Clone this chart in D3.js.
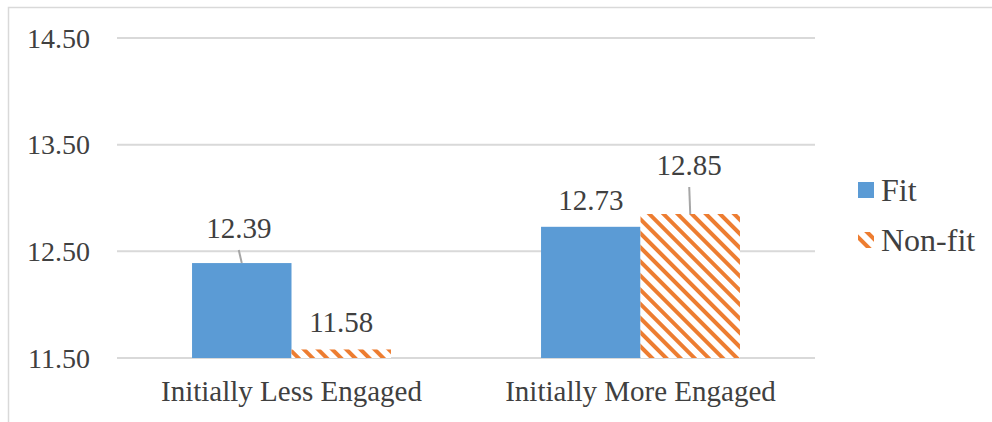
<!DOCTYPE html>
<html>
<head>
<meta charset="utf-8">
<script src="https://cdn.jsdelivr.net/npm/d3@7"></script>
<style>
  body { margin: 0; background: #fff; }
  svg { display: block; }
</style>
</head>
<body>
<svg id="chart" width="992" height="422"></svg>
<script>
const categories = ["Initially Less Engaged", "Initially More Engaged"];
const seriesNames = ["Fit", "Non-fit"];
const fitValues = [12.39, 12.73];
const nonFitValues = [11.58, 12.85];
const yTicks = [11.5, 12.5, 13.5, 14.5];

const svg = d3.select("#chart");
const width = 992, height = 422;
const margin = {top: 38, right: 177, bottom: 64, left: 117};
const innerW = width - margin.left - margin.right;
const innerH = height - margin.top - margin.bottom;
const font = "'Liberation Serif', 'Times New Roman', serif";
const textColor = "#404040";
const colors = {"Fit": "#5B9BD5", "Non-fit": "#ED7D31"};

// stripe pattern for Non-fit
const defs = svg.append("defs");
const pat = defs.append("pattern")
    .attr("id", "stripes")
    .attr("patternUnits", "userSpaceOnUse")
    .attr("width", 10)
    .attr("height", 10)
    .attr("patternTransform", "rotate(-45)");
pat.append("rect").attr("width", 10).attr("height", 10).attr("fill", "#fff");
pat.append("rect").attr("width", 4).attr("height", 10).attr("fill", colors["Non-fit"]);

// outer chart border
svg.append("rect")
    .attr("x", 8.5).attr("y", 7.5)
    .attr("width", 1000).attr("height", 430)
    .attr("fill", "none")
    .attr("stroke", "#d9d9d9")
    .attr("stroke-width", 1.5);

const g = svg.append("g")
    .attr("transform", `translate(${margin.left},${margin.top})`);

const x0 = d3.scaleBand().domain(categories).range([0, innerW]).paddingInner(0.43).paddingOuter(0.215);
const x1 = d3.scaleBand().domain(seriesNames).range([0, x0.bandwidth()]);
const y = d3.scaleLinear().domain([11.5, 14.5]).range([innerH, 0]);

// gridlines
g.append("g")
    .selectAll("line")
    .data(yTicks)
    .join("line")
    .attr("x1", 0).attr("x2", innerW)
    .attr("y1", d => y(d)).attr("y2", d => y(d))
    .attr("stroke", "#d9d9d9")
    .attr("stroke-width", 2);

// y tick labels
g.append("g")
    .selectAll("text")
    .data(yTicks)
    .join("text")
    .attr("x", -27)
    .attr("y", d => y(d))
    .attr("dy", "0.35em")
    .attr("text-anchor", "end")
    .attr("font-family", font)
    .attr("font-size", 28)
    .attr("fill", textColor)
    .text(d => d.toFixed(2));

const rows = [];
categories.forEach((c, i) => {
    rows.push({cat: c, series: "Fit", value: fitValues[i]});
    rows.push({cat: c, series: "Non-fit", value: nonFitValues[i]});
});

g.append("g")
    .selectAll("rect")
    .data(rows)
    .join("rect")
    .attr("x", d => x0(d.cat) + x1(d.series))
    .attr("y", d => y(d.value))
    .attr("width", x1.bandwidth())
    .attr("height", d => y(11.5) - y(d.value))
    .attr("fill", d => d.series === "Fit" ? colors["Fit"] : "url(#stripes)");

// data labels (two of them pulled up with leader lines)
const labelShift = {"12.39": [-3, -25], "12.85": [-1, -39]};
rows.forEach(d => {
    const key = d.value.toFixed(2);
    const cx = x0(d.cat) + x1(d.series) + x1.bandwidth() / 2;
    const top = y(d.value);
    const s = labelShift[key];
    let lx = cx, ly = top - 17;
    if (s) {
        lx = cx + s[0];
        ly = top + s[1];
        g.append("line")
            .attr("x1", lx).attr("y1", ly + 12)
            .attr("x2", cx).attr("y2", top)
            .attr("stroke", "#a6a6a6")
            .attr("stroke-width", 2);
    }
    g.append("text")
        .attr("x", lx).attr("y", ly)
        .attr("text-anchor", "middle")
        .attr("font-family", font)
        .attr("font-size", 29)
        .attr("fill", textColor)
        .text(key);
});

// category labels
g.append("g")
    .selectAll("text")
    .data(categories)
    .join("text")
    .attr("x", d => x0(d) + x0.bandwidth() / 2)
    .attr("y", innerH + 43)
    .attr("text-anchor", "middle")
    .attr("font-family", font)
    .attr("font-size", 29)
    .attr("fill", textColor)
    .text(d => d);

// legend
const legend = svg.append("g")
    .selectAll("g")
    .data(seriesNames)
    .join("g")
    .attr("transform", (d, i) => `translate(858,${190 + i * 50})`);
legend.append("rect")
    .attr("x", 0).attr("y", -8)
    .attr("width", 16).attr("height", 16)
    .attr("fill", d => d === "Fit" ? colors["Fit"] : "url(#stripes)");
legend.append("text")
    .attr("x", 23).attr("y", 0)
    .attr("dy", "0.35em")
    .attr("font-family", font)
    .attr("font-size", 32)
    .attr("fill", textColor)
    .text(d => d);
</script>
</body>
</html>
